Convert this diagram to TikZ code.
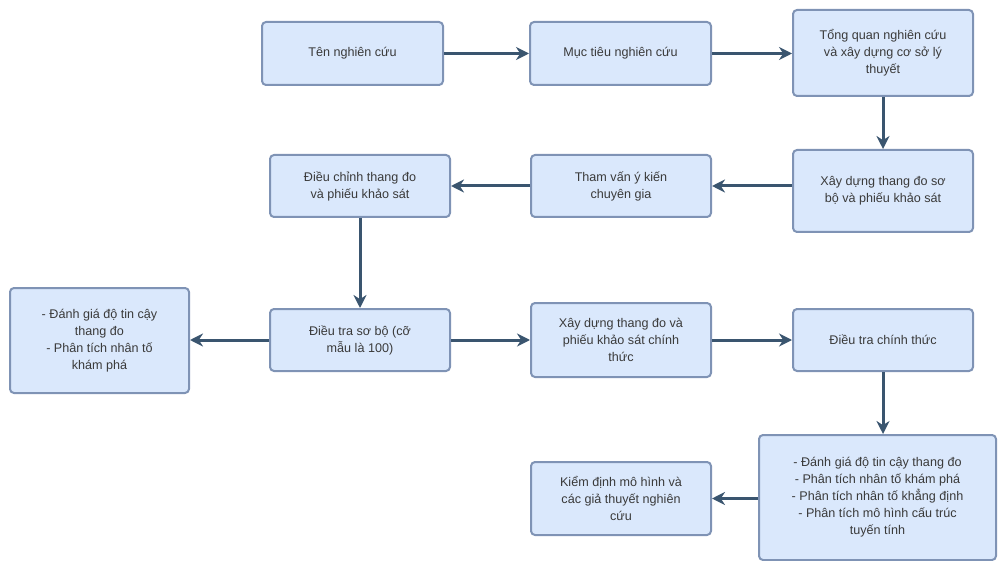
\documentclass[tikz,border=0pt]{standalone}
\usepackage{fontspec}
\setmainfont{Liberation Sans}
\usetikzlibrary{arrows.meta}
\definecolor{boxfill}{HTML}{DAE8FC}
\definecolor{boxdraw}{HTML}{7F93B5}
\definecolor{arrowc}{HTML}{3A556F}
\definecolor{txt}{HTML}{3A3A3A}
\tikzset{
  box/.style={draw=boxdraw, fill=boxfill, line width=2pt, rounded corners=4pt,
    align=center, text=txt, inner sep=2pt,
    font=\fontsize{12.6}{17}\selectfont},
  conn/.style={draw=arrowc, line width=3pt, -{Stealth[length=13pt,width=13pt]}}
}
\begin{document}
\begin{tikzpicture}[x=1pt,y=-1pt]
\useasboundingbox (0,0) rectangle (998,561);
\node[box, minimum width=181pt, minimum height=63pt] (b1) at (352.5,53.5) {Tên nghiên cứu};
\node[box, minimum width=181pt, minimum height=63pt] (b2) at (620.5,53.5) {Mục tiêu nghiên cứu};
\node[box, minimum width=180pt, minimum height=86pt] (b3) at (883,53) {Tổng quan nghiên cứu\\và xây dựng cơ sở lý\\thuyết};
\node[box, minimum width=180pt, minimum height=82pt] (b4) at (883,191) {Xây dựng thang đo sơ\\bộ và phiếu khảo sát};
\node[box, minimum width=180pt, minimum height=62pt] (b5) at (621,186) {Tham vấn ý kiến\\chuyên gia};
\node[box, minimum width=180pt, minimum height=62pt] (b6) at (360,186) {Điều chỉnh thang đo\\và phiếu khảo sát};
\node[box, minimum width=180pt, minimum height=62pt] (b7) at (360,340) {Điều tra sơ bộ (cỡ\\mẫu là 100)};
\node[box, minimum width=179pt, minimum height=105pt] (b8) at (99.5,340.5) {- Đánh giá độ tin cậy\\thang đo\\- Phân tích nhân tố\\khám phá};
\node[box, minimum width=180pt, minimum height=74pt] (b9) at (621,340) {Xây dựng thang đo và\\phiếu khảo sát chính\\thức};
\node[box, minimum width=180pt, minimum height=62pt] (b10) at (883,340) {Điều tra chính thức};
\node[box, minimum width=237pt, minimum height=125pt] (b11) at (877.5,497.5) {- Đánh giá độ tin cậy thang đo\\- Phân tích nhân tố khám phá\\- Phân tích nhân tố khẳng định\\- Phân tích mô hình cấu trúc\\tuyến tính};
\node[box, minimum width=180pt, minimum height=73pt] (b12) at (621,498.5) {Kiểm định mô hình và\\các giả thuyết nghiên\\cứu};
\draw[conn] (b1) -- (b2);
\draw[conn] (b2.east) -- (b3.west |- b2.east);
\draw[conn] (b3) -- (b4);
\draw[conn] (b4.west |- b5.east) -- (b5.east);
\draw[conn] (b5) -- (b6);
\draw[conn] (b6) -- (b7);
\draw[conn] (b7.west) -- (b8.east |- b7.west);
\draw[conn] (b7) -- (b9);
\draw[conn] (b9) -- (b10);
\draw[conn] (b10.south) -- (b10.south |- b11.north);
\draw[conn] (b11.west |- b12.east) -- (b12.east);
\end{tikzpicture}
\end{document}
